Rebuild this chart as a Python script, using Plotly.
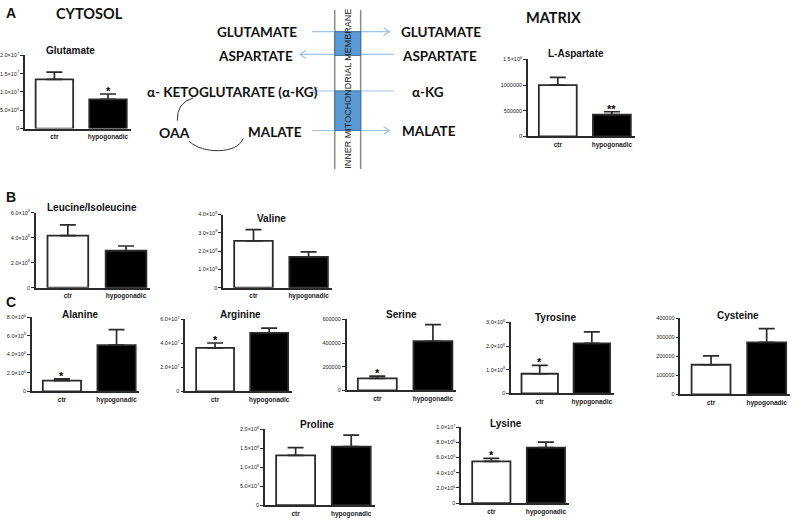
import plotly.graph_objects as go

W, H = 800, 522

# ---------------- data ----------------
categories = ["ctr", "hypogonadic"]

glutamate_mean = [1.345e7, 0.80e7]
glutamate_sem = [0.20e7, 0.145e7]
glutamate_sig = ["", "*"]
glutamate_tickvals = [0, 5e6, 1e7, 1.5e7, 2e7]
glutamate_ticktext = ["0", "5.0×10<sup>6</sup>", "1.0×10<sup>7</sup>", "1.5×10<sup>7</sup>", "2.0×10<sup>7</sup>"]

aspartate_mean = [1.0e6, 0.425e6]
aspartate_sem = [0.15e6, 0.055e6]
aspartate_sig = ["", "**"]
aspartate_tickvals = [0, 5e5, 1e6, 1.5e6]
aspartate_ticktext = ["0", "500000", "1000000", "1.5×10<sup>6</sup>"]

leucine_mean = [4.15e8, 2.95e8]
leucine_sem = [0.87e8, 0.38e8]
leucine_sig = ["", ""]
leucine_tickvals = [0, 2e8, 4e8, 6e8]
leucine_ticktext = ["0", "2.0×10<sup>8</sup>", "4.0×10<sup>8</sup>", "6.0×10<sup>8</sup>"]

valine_mean = [2.56e8, 1.69e8]
valine_sem = [0.61e8, 0.27e8]
valine_sig = ["", ""]
valine_tickvals = [0, 1e8, 2e8, 3e8, 4e8]
valine_ticktext = ["0", "1.0×10<sup>8</sup>", "2.0×10<sup>8</sup>", "3.0×10<sup>8</sup>", "4.0×10<sup>8</sup>"]

alanine_mean = [1.18e6, 5.0e6]
alanine_sem = [0.18e6, 1.68e6]
alanine_sig = ["*", ""]
alanine_tickvals = [0, 2e6, 4e6, 6e6, 8e6]
alanine_ticktext = ["0", "2.0×10<sup>6</sup>", "4.0×10<sup>6</sup>", "6.0×10<sup>6</sup>", "8.0×10<sup>6</sup>"]

arginine_mean = [3.62e7, 4.88e7]
arginine_sem = [0.41e7, 0.38e7]
arginine_sig = ["*", ""]
arginine_tickvals = [0, 2e7, 4e7, 6e7]
arginine_ticktext = ["0", "2.0×10<sup>7</sup>", "4.0×10<sup>7</sup>", "6.0×10<sup>7</sup>"]

serine_mean = [1.02e5, 4.15e5]
serine_sem = [0.19e5, 1.40e5]
serine_sig = ["*", ""]
serine_tickvals = [0, 2e5, 4e5, 6e5]
serine_ticktext = ["0", "200000", "400000", "600000"]

tyrosine_mean = [0.83e8, 2.11e8]
tyrosine_sem = [0.35e8, 0.49e8]
tyrosine_sig = ["*", ""]
tyrosine_tickvals = [0, 1e8, 2e8, 3e8]
tyrosine_ticktext = ["0", "1.0×10<sup>8</sup>", "2.0×10<sup>8</sup>", "3.0×10<sup>8</sup>"]

cysteine_mean = [1.56e5, 2.74e5]
cysteine_sem = [0.47e5, 0.72e5]
cysteine_sig = ["", ""]
cysteine_tickvals = [0, 1e5, 2e5, 3e5, 4e5]
cysteine_ticktext = ["0", "100000", "200000", "300000", "400000"]

proline_mean = [1.31e8, 1.54e8]
proline_sem = [0.20e8, 0.30e8]
proline_sig = ["", ""]
proline_tickvals = [0, 5e7, 1e8, 1.5e8, 2e8]
proline_ticktext = ["0", "5.0×10<sup>7</sup>", "1.0×10<sup>8</sup>", "1.5×10<sup>8</sup>", "2.0×10<sup>8</sup>"]

lysine_mean = [5.5e6, 7.29e6]
lysine_sem = [0.40e6, 0.74e6]
lysine_sig = ["*", ""]
lysine_tickvals = [0, 2e6, 4e6, 6e6, 8e6, 1e7]
lysine_ticktext = ["0", "2.0×10<sup>6</sup>", "4.0×10<sup>6</sup>", "6.0×10<sup>6</sup>", "8.0×10<sup>6</sup>", "1.0×10<sup>7</sup>"]

panels = [
    ("Glutamate", glutamate_mean, glutamate_sem, glutamate_sig, glutamate_tickvals, glutamate_ticktext),
    ("L-Aspartate", aspartate_mean, aspartate_sem, aspartate_sig, aspartate_tickvals, aspartate_ticktext),
    ("Leucine/Isoleucine", leucine_mean, leucine_sem, leucine_sig, leucine_tickvals, leucine_ticktext),
    ("Valine", valine_mean, valine_sem, valine_sig, valine_tickvals, valine_ticktext),
    ("Alanine", alanine_mean, alanine_sem, alanine_sig, alanine_tickvals, alanine_ticktext),
    ("Arginine", arginine_mean, arginine_sem, arginine_sig, arginine_tickvals, arginine_ticktext),
    ("Serine", serine_mean, serine_sem, serine_sig, serine_tickvals, serine_ticktext),
    ("Tyrosine", tyrosine_mean, tyrosine_sem, tyrosine_sig, tyrosine_tickvals, tyrosine_ticktext),
    ("Cysteine", cysteine_mean, cysteine_sem, cysteine_sig, cysteine_tickvals, cysteine_ticktext),
    ("Proline", proline_mean, proline_sem, proline_sig, proline_tickvals, proline_ticktext),
    ("Lysine", lysine_mean, lysine_sem, lysine_sig, lysine_tickvals, lysine_ticktext),
]

# ---------------- layout geometry (pixels) ----------------
# (x_left, x_right, y_top, y_base, title_x, title_y)
boxes = {
    "Glutamate": (22, 128, 53, 127, 68, 48),
    "L-Aspartate": (527, 634, 57, 135, 575, 51),
    "Leucine/Isoleucine": (33, 148, 212, 288, 89, 207),
    "Valine": (221, 330, 214, 288, 270, 218),
    "Alanine": (29, 137, 318, 393, 78, 315),
    "Arginine": (183, 290, 320, 393, 238, 315),
    "Serine": (345, 455, 320, 392, 400, 315),
    "Tyrosine": (510, 613, 323, 395, 555, 318),
    "Cysteine": (680, 790, 319, 396, 738, 316),
    "Proline": (263, 373, 431, 508, 315, 426),
    "Lysine": (460, 568, 429, 506, 505, 425),
}

AX = "#2b2b2b"
FONT = "Liberation Sans, Arial, sans-serif"
DFONT = "Lato, Open Sans, sans-serif"


def px(x):
    return x / W


def py(y):
    return 1 - y / H


fig = go.Figure()
annotations = []
layout_axes = {}

for i, (name, mean, sem, sig, tv, tt) in enumerate(panels, start=1):
    x0, x1, yt, yb, tx, ty = boxes[name]
    xa = "x" if i == 1 else f"x{i}"
    ya = "y" if i == 1 else f"y{i}"
    fig.add_trace(go.Bar(
        x=categories, y=mean,
        marker=dict(color=["white", "black"], line=dict(color=AX, width=1.8)),
        width=0.7,
        error_y=dict(type="data", symmetric=False, array=sem, arrayminus=[0, 0],
                     color=AX, thickness=1.7, width=8),
        xaxis=xa, yaxis=ya, showlegend=False, hoverinfo="skip",
    ))
    layout_axes["xaxis" if i == 1 else f"xaxis{i}"] = dict(
        domain=[px(x0), px(x1)], anchor=ya, type="category",
        categoryorder="array", categoryarray=categories,
        range=[-0.55, 1.42], showline=True, linecolor=AX, linewidth=1.6,
        ticks="", showgrid=False, zeroline=False, fixedrange=True,
        tickfont=dict(family=FONT, size=6.5, color="#222"),
        tickprefix="<b>", ticksuffix="</b>", ticklabelstandoff=1,
    )
    layout_axes["yaxis" if i == 1 else f"yaxis{i}"] = dict(
        domain=[py(yb), py(yt)], anchor=xa, range=[0, tv[-1]],
        tickvals=tv, ticktext=tt, ticks="outside", ticklen=3, tickwidth=1.2,
        tickcolor=AX, showline=True, linecolor=AX, linewidth=1.6,
        showgrid=False, zeroline=False, fixedrange=True,
        tickfont=dict(family=FONT, size=5.5, color="#222"),
    )
    annotations.append(dict(
        x=px(tx), y=py(ty), xref="paper", yref="paper", text=f"<b>{name}</b>",
        showarrow=False, font=dict(family=FONT, size=10, color="#111"),
        xanchor="center", yanchor="middle",
    ))
    for c, m, s, g in zip(categories, mean, sem, sig):
        if g:
            annotations.append(dict(
                x=c, y=m + s, xref=xa, yref=ya, text=f"<b>{g}</b>", showarrow=False,
                font=dict(family=FONT, size=11, color="black"),
                xanchor="center", yanchor="bottom", yshift=-5,
            ))

# panel letters
for letter, lx, ly in [("A", 8, 10), ("B", 8, 196), ("C", 8, 302)]:
    annotations.append(dict(x=px(lx), y=py(ly), xref="paper", yref="paper",
                            text=f"<b>{letter}</b>", showarrow=False,
                            font=dict(family=FONT, size=14, color="#111"),
                            xanchor="center", yanchor="middle"))

diagram_labels = [
    ("CYTOSOL", 87, 11, 14.5),
    ("MATRIX", 553, 15, 14.5),
    ("GLUTAMATE", 255, 29, 13.5),
    ("GLUTAMATE", 440, 29, 13.5),
    ("ASPARTATE", 253, 54, 13.5),
    ("ASPARTATE", 438, 54, 13.5),
    ("α- KETOGLUTARATE (α-KG)", 230, 90, 13.5),
    ("α-KG", 427, 90, 13.5),
    ("OAA", 172, 131, 14),
    ("MALATE", 273, 131, 13.5),
    ("MALATE", 428, 129, 13.5),
]
for txt, lx, ly, fs in diagram_labels:
    annotations.append(dict(x=px(lx), y=py(ly), xref="paper", yref="paper",
                            text=f"<b>{txt}</b>", showarrow=False,
                            font=dict(family=DFONT, size=fs, color="#111"),
                            xanchor="center", yanchor="middle"))

annotations.append(dict(x=px(346), y=py(87), xref="paper", yref="paper",
                        text="INNER MITOCHONDRIAL MEMBRANE", textangle=-90,
                        showarrow=False, font=dict(family=FONT, size=9, color="#222"),
                        xanchor="center", yanchor="middle"))


def P(x, y):
    return f"{px(x):.5f},{py(y):.5f}"


shapes = []
ARROW = "#9dc3e6"
# arrows (line + open chevron)
for xs, xe, y in [(310, 388, 29), (392, 298, 52), (392, 310, 89), (310, 388, 129)]:
    d = 1 if xe > xs else -1
    shapes.append(dict(type="path", xref="paper", yref="paper",
                       path=f"M{P(xs, y)} L{P(xe, y)}",
                       line=dict(color=ARROW, width=1.2)))
    shapes.append(dict(type="path", xref="paper", yref="paper",
                       path=f"M{P(xe - d * 6, y - 4)} L{P(xe, y)} L{P(xe - d * 6, y + 4)}",
                       line=dict(color=ARROW, width=1.2)))
# membrane lines
for mx in [333, 359]:
    shapes.append(dict(type="path", xref="paper", yref="paper",
                       path=f"M{P(mx, 7)} L{P(mx, 168)}",
                       line=dict(color="#8c8c8c", width=1.5)))
# transporters
for y0, y1 in [(29, 53), (89, 129)]:
    shapes.append(dict(type="rect", xref="paper", yref="paper",
                       x0=px(333), x1=px(359), y0=py(y1), y1=py(y0),
                       fillcolor="#5b9bd5", line=dict(color="#41719c", width=1)))
# cycle curves
shapes.append(dict(type="path", xref="paper", yref="paper",
                   path=f"M{P(191, 96)} Q{P(174, 101)} {P(175, 119)}",
                   line=dict(color="#333", width=1)))
shapes.append(dict(type="path", xref="paper", yref="paper",
                   path=f"M{P(187, 140)} C{P(200, 153)} {P(236, 153)} {P(241, 137)}",
                   line=dict(color="#333", width=1)))

fig.update_layout(
    width=W, height=H, margin=dict(l=0, r=0, t=0, b=0),
    paper_bgcolor="white", plot_bgcolor="white",
    showlegend=False, bargap=0.3,
    annotations=annotations, shapes=shapes,
    **layout_axes,
)

fig.write_html("out.html", config={"displayModeBar": False},
               post_script="document.body.style.margin='0';document.body.style.padding='0';")
